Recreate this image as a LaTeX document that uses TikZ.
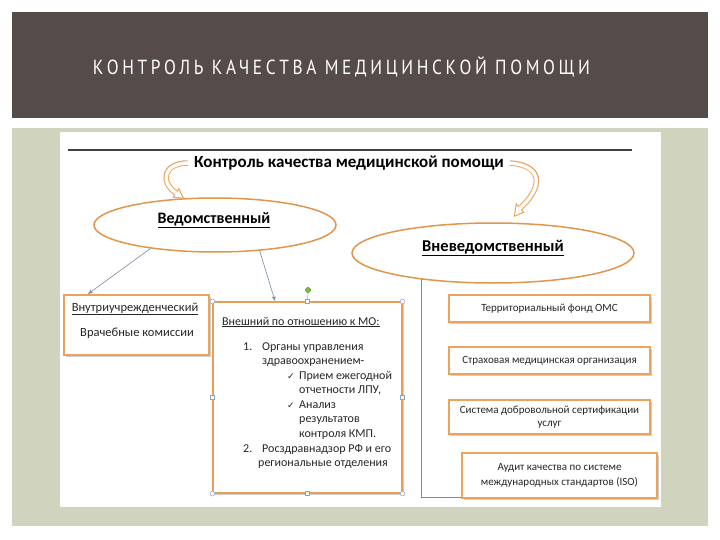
\documentclass[tikz,border=0pt]{standalone}
\usepackage{fontspec}
\setmainfont{Carlito}
\newfontfamily\titlefont[LetterSpace=18,FakeStretch=0.85]{PT Sans}
\newfontfamily\symfont{DejaVu Sans}
\usetikzlibrary{shapes.geometric,arrows.meta,calc,shadows}
\definecolor{bandcol}{HTML}{554B49}
\definecolor{panelcol}{HTML}{D0D3BD}
\definecolor{orgcol}{HTML}{EBA45C}
\definecolor{ellcol}{HTML}{E0964C}
\definecolor{conncol}{HTML}{7A8AA2}
\definecolor{txtcol}{HTML}{262626}
\definecolor{handcol}{HTML}{8EA2BD}
\definecolor{greencol}{HTML}{78BE3C}
\begin{document}
\begin{tikzpicture}[x=1pt,y=-1pt,
  box/.style={draw=orgcol, line width=1.6pt, fill=white, inner sep=1pt,
    drop shadow={shadow xshift=1.5pt, shadow yshift=-1.5pt, opacity=0.35, fill=black!55},
    text=txtcol, align=center},
  rtext/.style={font=\fontsize{11}{13}\selectfont},
  ell/.style={ellipse, draw=ellcol, line width=1.5pt, fill=white, inner sep=0pt},
  elltext/.style={font=\bfseries\fontsize{16}{18}\selectfont, text=black},
  lineconn/.style={draw=conncol, line width=0.6pt},
  arr/.style={lineconn, -{Stealth[length=5pt,width=4pt]}},
  wline/.style={anchor=base west, text=txtcol, inner sep=0pt, font=\fontsize{12}{14}\selectfont},
  handle/.style={draw=handcol, fill=white, line width=0.5pt}]
\useasboundingbox (0,0) rectangle (720,540);
\fill[white] (0,0) rectangle (720,540);
% title band
\fill[bandcol] (12,12) rectangle (708,118);
\node[text=white, inner sep=0pt] (title) at (341.5,67)
  {\resizebox{497pt}{!}{\titlefont\fontsize{14}{14}\selectfont КОНТРОЛЬ КАЧЕСТВА МЕДИЦИНСКОЙ ПОМОЩИ}};
% panel
\fill[panelcol] (12,128) rectangle (708,526);
\fill[white] (60,132) rectangle (661,507);
\draw[black!75, line width=1.5pt] (68,150) -- (632,150);
% main heading
\node[inner sep=1pt, font=\bfseries\fontsize{17}{19}\selectfont] (head) at (349,163)
  {Контроль качества медицинской помощи};
% ellipses
\node[ell, minimum width=242pt, minimum height=54pt] (e1) at (215,225) {};
\node[elltext] (t1) at (214,220) {\underline{Ведомственный}};
\node[ell, minimum width=282pt, minimum height=60pt] (e2) at (493,253) {};
\node[elltext, font=\bfseries\fontsize{16.5}{18}\selectfont] (t2) at (493,248) {\underline{Вневедомственный}};
% curved block arrows
\draw[orgcol, line width=5.5pt] (188,163) .. controls (163,163) and (160,182) .. (176,193);
\draw[white, line width=3.4pt] (189,163) .. controls (163,163) and (160,182) .. (176,193);
\filldraw[fill=white, draw=orgcol, line width=1pt] (173.2,197.1) -- (183.6,198.3) -- (178.8,188.9) -- cycle;
\draw[white, line width=3.4pt] (174.8,192.2) -- (177.6,194.1);
\draw[orgcol, line width=5.5pt] (510,163) .. controls (550,166) and (537,194) .. (520,208);
\draw[white, line width=3.4pt] (509,163) .. controls (550,166) and (537,194) .. (520,208);
\filldraw[fill=white, draw=orgcol, line width=1pt] (523.8,212.1) -- (514.4,216.2) -- (516.2,203.9) -- cycle;
\draw[white, line width=3.4pt] (521.2,206.8) -- (519.0,209.2);
% left boxes
\node[box, minimum width=145pt, minimum height=60pt] (b1) at (136.5,325) {};
\node[text=txtcol, font=\fontsize{12.5}{14}\selectfont, inner sep=0pt] (b1t) at (135,309) {\underline{Внутриучрежденческий}};
\node[text=txtcol, font=\fontsize{12.5}{14}\selectfont, inner sep=0pt] (b1s) at (137,333) {Врачебные комиссии};
\node[box, draw=orgcol!85!brown, line width=1.2pt, minimum width=189pt, minimum height=191pt] (b2) at (307.5,397.5) {};
% selection handles on b2
\draw[handcol, line width=0.5pt] (b2.north) -- (308,290);
\filldraw[fill=greencol, draw=greencol!70!black, line width=0.4pt] (308,290) circle (2.6);
\foreach \p in {north west, north east, south west, south east}
  \draw[handle] (b2.\p) circle (2.4);
\foreach \p in {north, south, east, west}
  \draw[handle] ($(b2.\p)+(-2,-2)$) rectangle ++(4,4);
% b2 text
\node[wline] (w0) at (222,325) {\underline{Внешний по отношению к МО:}};
\node[wline] (w1a) at (243,350) {1.};
\node[wline] (w1b) at (262,350) {Органы управления};
\node[wline] (w1c) at (262,364.5) {здравоохранением-};
\node[wline, font=\symfont\fontsize{9}{10}\selectfont] (w2a) at (287,379) {✓};
\node[wline] (w2b) at (299,379) {Прием ежегодной};
\node[wline] (w2c) at (299,393.5) {отчетности ЛПУ,};
\node[wline, font=\symfont\fontsize{9}{10}\selectfont] (w3a) at (287,408) {✓};
\node[wline] (w3b) at (299,408) {Анализ};
\node[wline] (w3c) at (299,422.5) {результатов};
\node[wline] (w3d) at (299,437) {контроля КМП.};
\node[wline] (w4a) at (243,452) {2.};
\node[wline] (w4b) at (262,452) {Росздравнадзор РФ и его};
\node[wline] (w4c) at (258,466.5) {региональные отделения};
% right boxes
\node[box, rtext, minimum width=201pt, minimum height=27pt] (r1) at (549.5,308.5) {Территориальный фонд ОМС};
\node[box, rtext, minimum width=201pt, minimum height=27pt] (r2) at (549.5,360.5) {Страховая медицинская организация};
\node[box, rtext, minimum width=201pt, minimum height=34pt] (r3) at (549.5,417) {Система добровольной сертификации\\услуг};
\node[box, rtext, minimum width=195pt, minimum height=45pt, font=\fontsize{11}{15}\selectfont] (r4) at (559.5,475.5) {Аудит качества по системе\\международных стандартов (ISO)};
% connectors from e1
\coordinate (a1) at (88,294);
\coordinate (a2) at (275,301);
\draw[arr] (e1.200) -- (a1);
\draw[arr] (e1.330) -- (a2);
% tree from e2
\coordinate (t0) at (421,497);
\draw[lineconn] (t0 |- e2.200) -- (t0) -- (t0 -| r4.west);
\draw[lineconn] ($(r1.north west)!0.33!(r1.south west)$ -| t0) -- ($(r1.north west)!0.33!(r1.south west)$);
\draw[lineconn] ($(r2.north west)!0.33!(r2.south west)$ -| t0) -- ($(r2.north west)!0.33!(r2.south west)$);
\draw[lineconn] ($(r3.north west)!0.3!(r3.south west)$ -| t0) -- ($(r3.north west)!0.3!(r3.south west)$);
\end{tikzpicture}
\end{document}
